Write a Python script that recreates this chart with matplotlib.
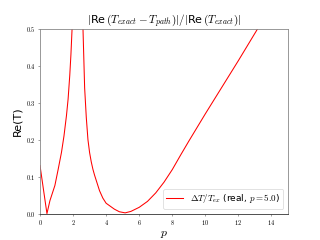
import matplotlib
matplotlib.use("Agg")
import matplotlib.pyplot as plt

plt.rcParams['mathtext.fontset'] = 'cm'
plt.rcParams['font.family'] = ['DejaVu Sans']

# values
p_vals = [0.0, 0.2, 0.42, 0.6, 0.9, 1.1, 1.3, 1.45, 1.6, 1.7, 1.8, 1.87, 1.94, 2.0, 2.3,
          2.55, 2.6, 2.7, 2.8, 2.9, 3.0, 3.1, 3.2, 3.3, 3.4, 3.6, 3.8, 4.0, 4.5, 4.8, 5.15,
          5.5, 6.0, 6.5, 7.0, 7.5, 8.0, 8.5, 9.0, 9.5, 10.0, 10.5, 11.0, 11.5,
          12.0, 12.5, 13.0, 13.5]
re_err = [0.13, 0.068, 0.0, 0.035, 0.076, 0.12, 0.166, 0.21, 0.265, 0.31, 0.374, 0.43, 0.5, 0.8, 3.0,
          0.8, 0.5, 0.34, 0.26, 0.2, 0.165, 0.14, 0.12, 0.104, 0.09, 0.062, 0.042, 0.028, 0.012, 0.005, 0.002,
          0.006, 0.017, 0.033, 0.056, 0.085, 0.119, 0.158, 0.196, 0.233, 0.27, 0.306, 0.342, 0.378,
          0.414, 0.451, 0.488, 0.525]

fig = plt.figure(figsize=(6.4, 4.8), dpi=50)
ax = fig.add_subplot(1, 1, 1)
ax.plot(p_vals, re_err, color='red', lw=1.5,
        label=r'$\Delta T/T_{ex}$ (real, $p=5.0$)')
ax.set_xlim(0, 15)
ax.set_ylim(0, 0.5)
ax.set_xticks([0, 2, 4, 6, 8, 10, 12, 14])
ax.set_yticks([0.0, 0.1, 0.2, 0.3, 0.4, 0.5])
ax.set_xticklabels([r'$%d$' % v for v in [0, 2, 4, 6, 8, 10, 12, 14]])
ax.set_yticklabels([r'$%.1f$' % v for v in [0.0, 0.1, 0.2, 0.3, 0.4, 0.5]])
ax.tick_params(labelsize=9, length=3, color='#555555')
for s in ['left', 'top', 'right']:
    ax.spines[s].set_color('#888888')
ax.spines['bottom'].set_color('#333333')
for s in ax.spines.values():
    s.set_linewidth(1.2)

ax.set_title(r'$|$Re$\,(T_{exact}-T_{path})|/|$Re$\,(T_{exact})|$', fontsize=16)
ax.set_ylabel('Re(T)', fontsize=16)
ax.set_xlabel(r'$p$', fontsize=17, labelpad=0)
ax.legend(loc='lower right', fontsize=13, handlelength=1.8, borderpad=0.4)

plt.savefig('out.png', dpi=50)
